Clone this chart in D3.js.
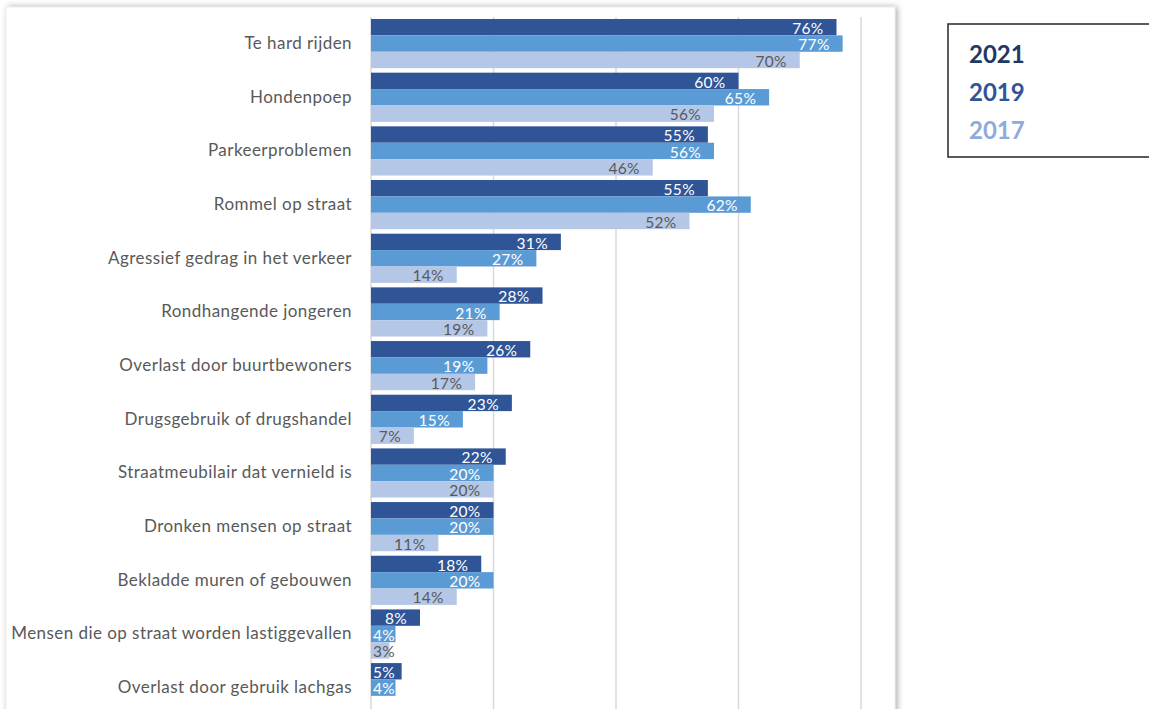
<!DOCTYPE html>
<html>
<head>
<meta charset="utf-8">
<script src="https://cdn.jsdelivr.net/npm/d3@7"></script>
<style>
  html, body { margin: 0; padding: 0; background: #ffffff; }
  svg { display: block; }
</style>
</head>
<body>
<svg id="chart" width="1149" height="709"></svg>
<script>
const categories = [
  "Te hard rijden",
  "Hondenpoep",
  "Parkeerproblemen",
  "Rommel op straat",
  "Agressief gedrag in het verkeer",
  "Rondhangende jongeren",
  "Overlast door buurtbewoners",
  "Drugsgebruik of drugshandel",
  "Straatmeubilair dat vernield is",
  "Dronken mensen op straat",
  "Bekladde muren of gebouwen",
  "Mensen die op straat worden lastiggevallen",
  "Overlast door gebruik lachgas"
];
const series = ["2021", "2019", "2017"];
const values2021 = [76, 60, 55, 55, 31, 28, 26, 23, 22, 20, 18, 8, 5];
const values2019 = [77, 65, 56, 62, 27, 21, 19, 15, 20, 20, 20, 4, 4];
const values2017 = [70, 56, 46, 52, 14, 19, 17, 7, 20, 11, 14, 3, null];
const xTicks = [0, 20, 40, 60, 80];

const barColors = { "2021": "#2F5597", "2019": "#5B9BD5", "2017": "#B4C7E7" };
const labelColors = { "2021": "#ffffff", "2019": "#ffffff", "2017": "#595959" };
const legendColors = { "2021": "#203864", "2019": "#2F5597", "2017": "#8FAADC" };

const valuesBySeries = { "2021": values2021, "2019": values2019, "2017": values2017 };
const rows = categories.map((c, i) => ({
  cat: c,
  vals: series.map(s => ({ s, v: valuesBySeries[s][i] }))
}));

const svg = d3.select("#chart");
const FONT = "Lato, 'Open Sans', sans-serif";

// panel with shadow
const defs = svg.append("defs");
const f = defs.append("filter").attr("id", "shadow").attr("x", "-5%").attr("y", "-5%").attr("width", "110%").attr("height", "110%");
f.append("feGaussianBlur").attr("in", "SourceAlpha").attr("stdDeviation", 3);
f.append("feOffset").attr("dx", 2).attr("dy", 0).attr("result", "b");
f.append("feComponentTransfer").append("feFuncA").attr("type", "linear").attr("slope", 0.35);
const m = f.append("feMerge");
m.append("feMergeNode");
m.append("feMergeNode").attr("in", "SourceGraphic");

svg.append("rect").attr("x", 6).attr("y", 7).attr("width", 889).attr("height", 760)
  .attr("fill", "#ffffff").attr("stroke", "#e0e0e0").attr("stroke-width", 0.6)
  .attr("filter", "url(#shadow)");

const x = d3.scaleLinear().domain([0, 80]).range([371, 861]);
const y = d3.scaleBand().domain(categories).range([16.75, 714.5]).paddingInner(0.084).paddingOuter(0.042);
const ys = d3.scaleBand().domain(series).range([0, y.bandwidth()]);

// gridlines
svg.append("g").selectAll("line").data(xTicks).join("line")
  .attr("x1", d => x(d)).attr("x2", d => x(d))
  .attr("y1", 17).attr("y2", 709)
  .attr("stroke", "#d9d9d9").attr("stroke-width", 1.5);

// category labels via axis
const yAxis = svg.append("g").attr("transform", "translate(371,0)")
  .call(d3.axisLeft(y).tickSize(0).tickPadding(19));
yAxis.select(".domain").remove();
yAxis.selectAll("text").attr("fill", "#595959").style("font-family", FONT)
  .style("font-size", "17px").style("letter-spacing", "0.45px");

// bars
const groups = svg.append("g").selectAll("g").data(rows).join("g")
  .attr("transform", d => `translate(0,${y(d.cat)})`);

groups.selectAll("rect").data(d => d.vals.filter(v => v.v != null)).join("rect")
  .attr("x", x(0))
  .attr("y", d => ys(d.s))
  .attr("width", d => x(d.v) - x(0))
  .attr("height", ys.bandwidth())
  .attr("fill", d => barColors[d.s]);

groups.selectAll("text").data(d => d.vals.filter(v => v.v != null)).join("text")
  .attr("y", d => ys(d.s) + ys.bandwidth() - 1.5)
  .attr("fill", d => labelColors[d.s])
  .style("font-family", FONT).style("font-size", "15.5px").style("letter-spacing", "0.3px")
  .attr("text-anchor", "end")
  .text(d => d.v + "%")
  .attr("x", function(d) {
    const w = this.getComputedTextLength();
    return Math.max(x(d.v) - 13, x(0) + 2 + w);
  });

// legend
const lg = svg.append("g");
lg.append("rect").attr("x", 948).attr("y", 24).attr("width", 230).attr("height", 133)
  .attr("fill", "#ffffff").attr("stroke", "#333333").attr("stroke-width", 1.6);
const legendY = d3.scalePoint().domain(series).range([63, 139]);
lg.selectAll("text").data(series).join("text")
  .attr("x", 969).attr("y", d => legendY(d))
  .attr("fill", d => legendColors[d])
  .style("font-family", FONT).style("font-weight", "bold").style("font-size", "24px")
  .text(d => d);
</script>
</body>
</html>
